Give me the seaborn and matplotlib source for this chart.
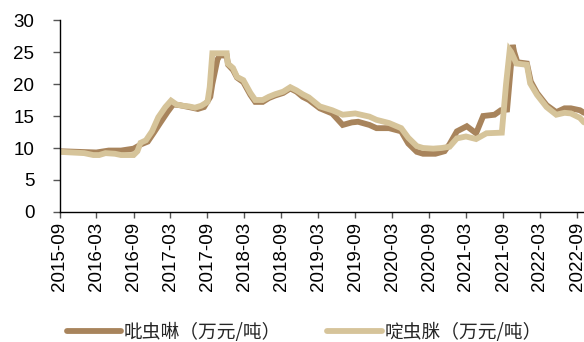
import matplotlib
matplotlib.use("Agg")
import matplotlib.pyplot as plt
import matplotlib.dates as mdates
import numpy as np
import pandas as pd
import seaborn as sns

# 吡虫啉 price observations, 10k yuan per tonne
imidacloprid_dates = [
    "2015-09-01", "2015-12-01", "2016-03-01", "2016-05-01", "2016-07-01", "2016-09-01",
    "2016-10-10", "2016-11-10", "2016-12-10", "2017-01-10", "2017-02-15", "2017-03-15",
    "2017-04-15", "2017-06-01", "2017-07-15", "2017-08-15", "2017-09-15", "2017-09-25",
    "2017-10-20", "2017-11-01", "2017-12-05", "2017-12-12", "2018-01-05", "2018-01-25",
    "2018-02-25", "2018-04-01", "2018-04-25", "2018-06-01", "2018-07-01", "2018-08-01",
    "2018-09-10", "2018-10-15", "2018-11-15", "2018-12-15", "2019-01-15", "2019-03-10",
    "2019-05-10", "2019-07-01", "2019-08-15", "2019-09-15", "2019-11-10", "2019-12-15",
    "2020-02-15", "2020-04-15", "2020-05-20", "2020-07-01", "2020-08-01", "2020-10-01",
    "2020-11-15", "2020-12-10", "2021-01-15", "2021-03-05", "2021-04-20", "2021-05-25",
    "2021-07-20", "2021-08-20", "2021-09-20", "2021-10-18", "2021-10-25", "2021-11-10",
    "2021-12-27", "2022-01-15", "2022-02-15", "2022-04-03", "2022-05-21", "2022-07-01",
    "2022-08-01", "2022-09-15", "2022-10-05",
]
imidacloprid = [
    9.5, 9.4, 9.3, 9.6, 9.6, 9.9,
    10.6, 11.0, 12.4, 13.9, 15.6, 16.8,
    16.7, 16.4, 16.1, 16.4, 18.0, 20.0,
    23.8, 24.5, 24.4, 23.0, 22.2, 21.0,
    20.3, 18.3, 17.2, 17.2, 17.8, 18.2,
    18.6, 19.3, 18.8, 18.0, 17.5, 16.2,
    15.4, 13.6, 14.0, 14.1, 13.6, 13.1,
    13.1, 12.6, 10.7, 9.4, 9.1, 9.1,
    9.5, 10.6, 12.6, 13.4, 12.3, 15.0,
    15.2, 15.9, 16.0, 26.1, 25.0, 23.4,
    23.2, 20.4, 18.6, 16.7, 15.6, 16.2,
    16.2, 15.9, 15.5,
]

# 啶虫脒 price observations, 10k yuan per tonne
acetamiprid_dates = [
    "2015-09-01", "2015-11-01", "2016-01-01", "2016-02-15", "2016-03-15", "2016-04-15",
    "2016-06-01", "2016-07-01", "2016-09-01", "2016-09-20", "2016-10-05", "2016-11-01",
    "2016-12-01", "2017-01-01", "2017-02-05", "2017-03-05", "2017-04-01", "2017-05-01",
    "2017-06-01", "2017-07-01", "2017-08-01", "2017-09-01", "2017-09-12", "2017-09-25",
    "2017-12-05", "2017-12-10", "2018-01-05", "2018-01-25", "2018-02-25", "2018-04-01",
    "2018-04-25", "2018-06-01", "2018-07-01", "2018-08-01", "2018-09-10", "2018-10-15",
    "2018-11-15", "2018-12-15", "2019-01-15", "2019-03-10", "2019-05-10", "2019-07-01",
    "2019-09-01", "2019-11-10", "2019-12-15", "2020-02-15", "2020-04-15", "2020-05-20",
    "2020-07-01", "2020-08-01", "2020-09-20", "2020-11-01", "2020-12-10", "2021-01-15",
    "2021-03-01", "2021-04-20", "2021-06-10", "2021-08-25", "2021-09-15", "2021-10-03",
    "2021-10-10", "2021-11-05", "2021-12-27", "2022-01-12", "2022-02-15", "2022-04-03",
    "2022-05-21", "2022-07-01", "2022-08-01", "2022-09-15", "2022-10-05",
]
acetamiprid = [
    9.4, 9.3, 9.2, 8.9, 8.9, 9.2,
    9.1, 8.9, 8.9, 9.5, 10.8, 11.2,
    12.6, 14.8, 16.4, 17.4, 16.8, 16.6,
    16.5, 16.3, 16.6, 17.2, 19.5, 24.8,
    24.8, 23.2, 22.5, 21.1, 20.6, 18.6,
    17.5, 17.5, 18.0, 18.4, 18.8, 19.5,
    19.0, 18.4, 17.9, 16.5, 15.9, 15.2,
    15.4, 14.9, 14.4, 13.9, 13.1, 11.6,
    10.3, 10.0, 9.9, 10.0, 10.2, 11.5,
    11.8, 11.4, 12.3, 12.4, 20.0, 25.3,
    25.0, 23.2, 23.0, 20.1, 18.3, 16.4,
    15.2, 15.5, 15.4, 14.7, 14.0,
]

series_names = ["吡虫啉（万元/吨）", "啶虫脒（万元/吨）"]
series_colors = ["#A8845C", "#D6C49A"]
tick_dates = pd.date_range("2015-09-01", "2022-09-01", freq="6MS")

sns.set_theme(style="white")
plt.rcParams["font.family"] = ["Liberation Sans", "DejaVu Sans"]

df = pd.concat([
    pd.DataFrame({"date": pd.to_datetime(imidacloprid_dates),
                  "price": imidacloprid, "series": series_names[0]}),
    pd.DataFrame({"date": pd.to_datetime(acetamiprid_dates),
                  "price": acetamiprid, "series": series_names[1]}),
], ignore_index=True)

fig = plt.figure(figsize=(5.84, 3.42), dpi=100)
ax = fig.add_axes([59.5 / 584, 130 / 342, 1 - 59.5 / 584, 192 / 342])

sns.lineplot(
    data=df, x="date", y="price", hue="series", hue_order=series_names,
    palette=series_colors, linewidth=4.2, ax=ax, legend=False,
    solid_joinstyle="miter", estimator=None, sort=True,
)

ax.set_xlim(pd.Timestamp("2015-09-01"), pd.Timestamp("2022-10-05"))
ax.set_ylim(0, 30)
ax.set_yticks(np.arange(0, 31, 5))
ax.set_xticks(tick_dates)
ax.xaxis.set_major_formatter(mdates.DateFormatter("%Y-%m"))
ax.set_xlabel("")
ax.set_ylabel("")

for side in ["top", "right"]:
    ax.spines[side].set_visible(False)
for side in ["left", "bottom"]:
    ax.spines[side].set_color("black")
    ax.spines[side].set_linewidth(1.0)

ax.tick_params(axis="both", which="major", direction="out",
               width=1.0, color="#555555", labelsize=13.5, labelcolor="black",
               bottom=True, left=True)
ax.tick_params(axis="x", length=4, pad=3, labelrotation=90)
ax.tick_params(axis="y", length=5, pad=13)

handles = [plt.Line2D([0], [0], color=c, linewidth=4.2, solid_capstyle="round")
           for c in series_colors]
fig.legend(handles, series_names, loc="center", bbox_to_anchor=(0.521, 0.028),
           ncol=2, frameon=False, handlelength=2.9, handletextpad=0.15,
           columnspacing=2.45,
           prop={"family": ["Noto Sans CJK SC", "DejaVu Sans"], "size": 13.5})

fig.savefig("out.png", dpi=100)
